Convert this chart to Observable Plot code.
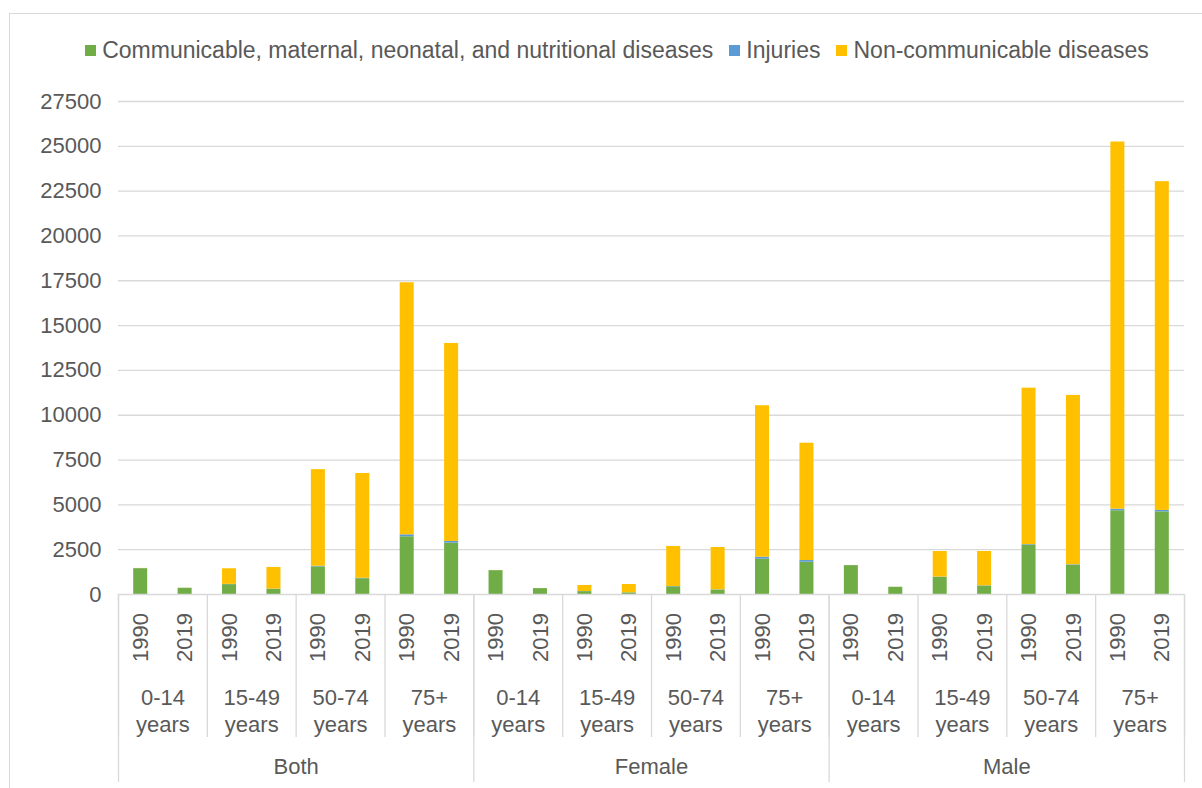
<!DOCTYPE html>
<html>
<head>
<meta charset="utf-8">
<script src="https://cdn.jsdelivr.net/npm/d3@7"></script>
<script src="https://cdn.jsdelivr.net/npm/@observablehq/plot@0.6"></script>
<style>
  html, body { margin: 0; padding: 0; background: #fff; }
  #chart {
    position: relative; width: 1202px; height: 788px; overflow: hidden;
    font-family: "Liberation Sans", Arial, sans-serif; color: #595959;
  }
  #frame {
    position: absolute; left: 9px; top: 13px; width: 1300px; height: 900px;
    border: 1.3px solid #d9d9d9; box-sizing: border-box;
  }
  #legend {
    position: absolute; left: 16px; top: 35px; width: 1202px; height: 30px;
    display: flex; justify-content: center; align-items: center;
    font-size: 23px; white-space: nowrap;
  }
  #legend .item { display: flex; align-items: center; margin: 0 8px; }
  #legend .swatch { width: 11px; height: 11px; margin-right: 6px; }
  #plot { position: absolute; left: 0; top: 80px; }
</style>
</head>
<body>
<div id="chart">
  <div id="frame"></div>
  <div id="legend"></div>
  <div id="plot"></div>
</div>
<script>
// Category hierarchy: sex > age group > year
const sexes = ["Both", "Female", "Male"];
const ages = ["0-14", "15-49", "50-74", "75+"];
const years = ["1990", "2019"];

// Cause groups (stacked bottom to top) and their colours
const causes = [
  "Communicable, maternal, neonatal, and nutritional diseases",
  "Injuries",
  "Non-communicable diseases"
];
const causeColors = ["#70AD47", "#5B9BD5", "#FFC000"];

// Values per slot, ordered Both/Female/Male × age × year
const communicable = [1440, 345, 550, 290, 1540, 880, 3220, 2865,
                      1330, 328, 160, 90, 430, 250, 1970, 1800,
                      1610, 400, 955, 475, 2740, 1630, 4670, 4610];
const injuries = [5, 3, 15, 10, 35, 25, 110, 95,
                  4, 3, 8, 6, 15, 12, 110, 95,
                  5, 3, 15, 10, 40, 30, 90, 80];
const nonCommunicable = [10, 5, 870, 1210, 5390, 5845, 14060, 11045,
                         6, 4, 335, 460, 2235, 2360, 8450, 6545,
                         5, 4, 1430, 1915, 8730, 9445, 20480, 18340];

const yTicks = [0, 2500, 5000, 7500, 10000, 12500, 15000, 17500, 20000, 22500, 25000, 27500];

const seriesValues = [communicable, injuries, nonCommunicable];

// One slot per sex/age/year combination
const slots = [];
sexes.forEach((sex, si) => ages.forEach((age, ai) => years.forEach((year, yi) => {
  slots.push({slot: si * 8 + ai * 2 + yi, sex, age, year});
})));

const rows = [];
slots.forEach(s => causes.forEach((cause, ci) => {
  rows.push({slot: s.slot, cause, value: seriesValues[ci][s.slot]});
}));

const ageGroups = [];
sexes.forEach((sex, si) => ages.forEach((age, ai) => ageGroups.push({mid: si * 8 + ai * 2 + 1, label: age + "\nyears"})));
const sexGroups = sexes.map((sex, si) => ({mid: si * 8 + 4, label: sex}));
const ageBounds = d3.range(0, slots.length + 1, 2);
const sexBounds = d3.range(0, slots.length + 1, 8);

// Legend
const legend = document.getElementById("legend");
causes.forEach((c, i) => {
  const item = document.createElement("div");
  item.className = "item";
  const sw = document.createElement("div");
  sw.className = "swatch";
  sw.style.background = causeColors[i];
  const label = document.createElement("span");
  label.textContent = c;
  item.appendChild(sw);
  item.appendChild(label);
  legend.appendChild(item);
});

const width = 1202, height = 708;
const marginTop = 21, marginBottom = 194, marginLeft = 118, marginRight = 18;
const plotH = height - marginTop - marginBottom;
const grid = "#d9d9d9", text = "#595959";

const chart = Plot.plot({
  width, height, marginTop, marginBottom, marginLeft, marginRight,
  style: {fontSize: "22px", fontFamily: "'Liberation Sans', Arial, sans-serif", color: text, background: "transparent"},
  x: {type: "linear", domain: [0, slots.length], axis: null},
  y: {domain: [0, 27500], ticks: yTicks, tickSize: 0, tickPadding: 17, tickFormat: d => String(d), label: null},
  color: {domain: causes, range: causeColors},
  marks: [
    Plot.ruleY(yTicks.slice(1), {stroke: grid, strokeWidth: 1.3}),
    Plot.rectY(rows, {
      x1: "slot", x2: d => d.slot + 1, y: "value", fill: "cause",
      insetLeft: 15.2, insetRight: 15.2
    }),
    Plot.ruleY([0], {stroke: grid, strokeWidth: 1.5}),
    // category axis separators
    Plot.ruleX(ageBounds, {x: d => d, stroke: grid, strokeWidth: 1.3, insetTop: plotH, insetBottom: -143}),
    Plot.ruleX(sexBounds, {x: d => d, stroke: grid, strokeWidth: 1.3, insetTop: plotH, insetBottom: -188}),
    // category labels
    Plot.text(slots, {x: d => d.slot + 0.5, text: "year", frameAnchor: "bottom", lineAnchor: "middle", dy: 43, rotate: -90, fill: text, fontSize: 22}),
    Plot.text(ageGroups, {x: "mid", text: "label", frameAnchor: "bottom", lineAnchor: "middle", dy: 115.7, lineHeight: 1.23, fill: text, fontSize: 22}),
    Plot.text(sexGroups, {x: "mid", text: "label", frameAnchor: "bottom", lineAnchor: "middle", dy: 172.7, fill: text, fontSize: 22})
  ]
});
document.getElementById("plot").appendChild(chart);
</script>
</body>
</html>
